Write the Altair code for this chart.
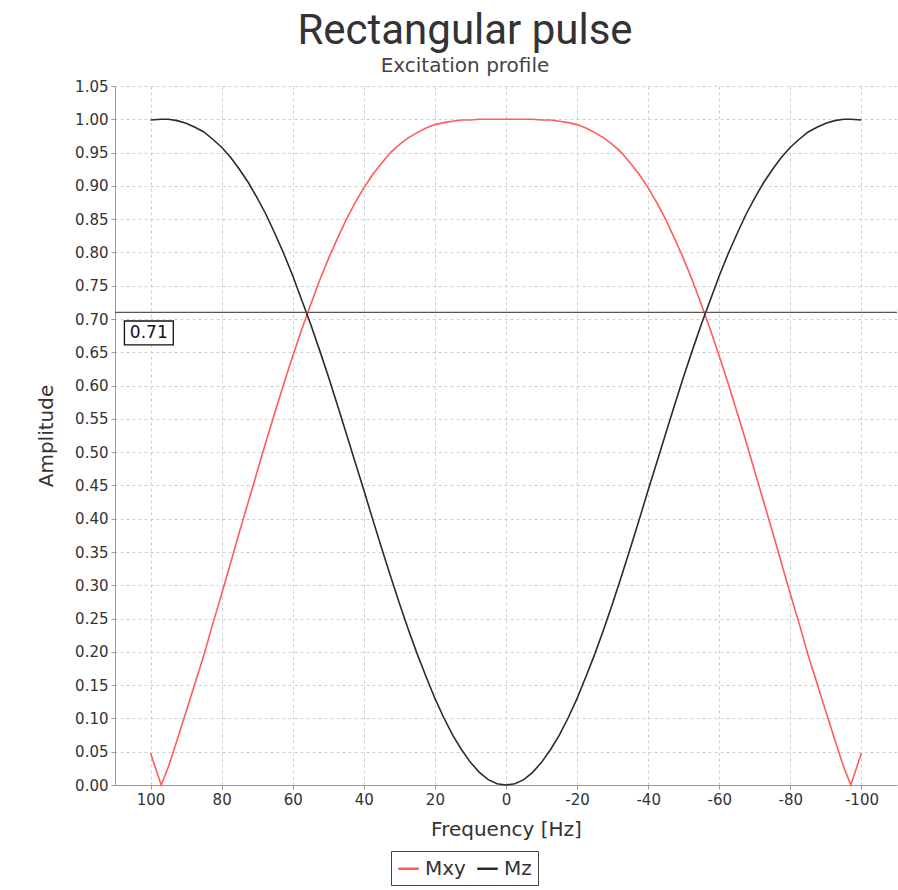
import altair as alt
import pandas as pd

# Frequency offsets (Hz), one side of the symmetric profile
freq_half = [0, 2.5, 5, 7.5, 10, 12.5, 15, 17.5, 20, 22.5, 25, 27.5, 30, 32.5, 35, 37.5,
             40, 42.5, 45, 47.5, 50, 52.5, 55, 57.5, 60, 62.5, 65, 67.5, 70, 72.5, 75,
             77.5, 80, 82.5, 85, 87.5, 90, 92.5, 95, 97, 100]
mz_half = [0.000, 0.002, 0.008, 0.019, 0.034, 0.053, 0.075, 0.101, 0.130, 0.163, 0.197,
           0.234, 0.273, 0.314, 0.356, 0.399, 0.443, 0.486, 0.529, 0.572, 0.614, 0.654,
           0.693, 0.729, 0.765, 0.798, 0.828, 0.857, 0.882, 0.905, 0.925, 0.943, 0.958,
           0.970, 0.981, 0.988, 0.994, 0.998, 1.000, 1.000, 0.999]
mxy_half = [1.000, 1.000, 1.000, 1.000, 0.999, 0.999, 0.997, 0.995, 0.992, 0.987, 0.980,
            0.972, 0.962, 0.950, 0.934, 0.917, 0.897, 0.874, 0.849, 0.820, 0.790, 0.757,
            0.721, 0.684, 0.644, 0.603, 0.560, 0.516, 0.471, 0.425, 0.380, 0.333, 0.287,
            0.242, 0.195, 0.153, 0.110, 0.068, 0.027, 0.000, 0.048]

series_names = ["Mxy", "Mz"]
series_colors = ["#ff5c5c", "#2b2b2b"]
x_ticks = [100, 80, 60, 40, 20, 0, -20, -40, -60, -80, -100]
y_ticks = [0.0, 0.05, 0.1, 0.15, 0.2, 0.25, 0.3, 0.35, 0.4, 0.45, 0.5, 0.55, 0.6, 0.65,
           0.7, 0.75, 0.8, 0.85, 0.9, 0.95, 1.0, 1.05]
threshold = 0.71
threshold_label = "0.71"

rows = []
for name, half in (("Mxy", mxy_half), ("Mz", mz_half)):
    for f, v in zip(freq_half, half):
        rows.append({"freq": f, "amp": v, "series": name})
        if f != 0:
            rows.append({"freq": -f, "amp": v, "series": name})
df = pd.DataFrame(rows)

# annotation: threshold line and its boxed label (label box in data units)
ann = pd.DataFrame({
    "value": [threshold], "label": [threshold_label],
    "bx1": [107.35], "bx2": [93.6], "by1": [0.697], "by2": [0.661],
    "tx": [100.5], "ty": [0.679],
})

FONT = "DejaVu Sans"

x_scale = alt.Scale(domain=[-110, 110], reverse=True, nice=False, zero=False)
y_scale = alt.Scale(domain=[0, 1.05], nice=False, zero=False)
x_axis = alt.Axis(values=x_ticks, title="Frequency [Hz]",
                  labelExpr="'' + datum.value", labelOverlap=False)
y_axis = alt.Axis(values=y_ticks, format=".2f", title="Amplitude",
                  labelOverlap=False, labelBound=False, labelFlush=False)

lines = alt.Chart(df).mark_line(strokeWidth=1.6).encode(
    x=alt.X("freq:Q", scale=x_scale, axis=x_axis),
    y=alt.Y("amp:Q", scale=y_scale, axis=y_axis),
    color=alt.Color("series:N",
                    scale=alt.Scale(domain=series_names, range=series_colors),
                    legend=alt.Legend(title=None, orient="none", legendX=276, legendY=765,
                                      direction="horizontal")),
    order="freq:Q",
)

rule = alt.Chart(ann).mark_rule(color="#555555", strokeWidth=1.2).encode(
    y=alt.Y("value:Q", scale=y_scale, axis=y_axis)
)

box = alt.Chart(ann).mark_rect(fill="white", stroke="#111111", strokeWidth=1.3).encode(
    x=alt.X("bx1:Q", scale=x_scale, axis=x_axis), x2="bx2:Q",
    y=alt.Y("by1:Q", scale=y_scale, axis=y_axis), y2="by2:Q",
)

label = alt.Chart(ann).mark_text(font=FONT, fontSize=17, color="#111111",
                                 baseline="middle", align="center").encode(
    x=alt.X("tx:Q", scale=x_scale, axis=x_axis),
    y=alt.Y("ty:Q", scale=y_scale, axis=y_axis),
    text="label:N",
)

chart = alt.layer(lines, rule, box, label).properties(
    width=782,
    height=699,
    padding={"left": 115, "top": 86, "right": 1, "bottom": 105},
    autosize=alt.AutoSizeParams(type="none"),
    title=alt.TitleParams(
        text="Rectangular pulse",
        subtitle="Excitation profile",
        font="Roboto",
        fontSize=42,
        fontWeight="normal",
        color="#333333",
        subtitleFont=FONT,
        subtitleFontSize=20,
        subtitleColor="#444444",
        subtitlePadding=3,
        anchor="middle",
        dx=-41,
        offset=2,
    ),
).configure_view(
    stroke=None
).configure_axis(
    labelFont=FONT,
    labelFontSize=15,
    labelColor="#333333",
    titleFont=FONT,
    titleFontSize=20,
    titleFontWeight="normal",
    titleColor="#333333",
    domainColor="#999999",
    tickColor="#999999",
    tickSize=4,
    gridColor="#cfcfcf",
    gridDash=[3, 3],
    gridWidth=1,
    labelPadding=3,
    labelOverlap=False,
).configure_axisY(
    titlePadding=18,
).configure_axisX(
    titlePadding=12,
).configure_legend(
    labelFont=FONT,
    labelFontSize=20,
    labelColor="#333333",
    symbolType="stroke",
    symbolSize=420,
    symbolStrokeWidth=2.5,
    strokeColor="#444444",
    fillColor="white",
    padding=6,
    columnPadding=6,
    labelOffset=5,
    cornerRadius=0,
)

chart.save("out.html", embed_options={"renderer": "svg", "actions": False})
